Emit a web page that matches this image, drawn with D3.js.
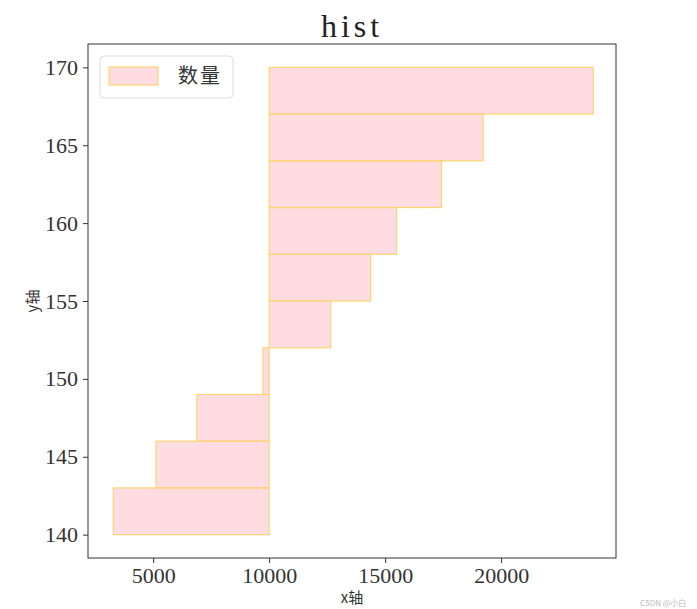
<!DOCTYPE html>
<html lang="zh">
<head>
    <meta charset="UTF-8">
    <script src="https://d3js.org/d3.v7.min.js"></script>
    <title>hist</title>
    <style>
        body { margin: 0; background: #fff; }
    </style>
</head>
<body>

<script>
// bin starts (y, height 3 each) and where each bar ends on x
const binStarts = [140, 143, 146, 149, 152, 155, 158, 161, 164, 167];
const binHeight = 3;
const barEnds = [3280, 5120, 6880, 9730, 12650, 14370, 15490, 17430, 19220, 23970];
const baseline = 10000;
const xTicks = [5000, 10000, 15000, 20000];
const yTicks = [140, 145, 150, 155, 160, 165, 170];

const W = 697, H = 609;
const margin = {top: 44, right: 81, bottom: 51, left: 88};

const serif = '"Liberation Serif", "DejaVu Serif", serif';
const cjk = '"Noto Sans CJK SC", sans-serif';

const svg = d3.select('body').append('svg')
    .attr('width', W)
    .attr('height', H);

const x = d3.scaleLinear()
    .domain([2190, 24950])
    .range([margin.left, W - margin.right]);

const y = d3.scaleLinear()
    .domain([138.5, 171.5])
    .range([H - margin.bottom, margin.top]);

// bars
svg.append('g')
    .selectAll('rect')
    .data(binStarts)
    .join('rect')
    .attr('x', (d, i) => x(Math.min(baseline, barEnds[i])))
    .attr('width', (d, i) => Math.abs(x(barEnds[i]) - x(baseline)))
    .attr('y', d => y(d + binHeight))
    .attr('height', d => y(d) - y(d + binHeight))
    .attr('fill', '#ffc0cb')
    .attr('fill-opacity', 0.55)
    .attr('stroke', '#ffd572')
    .attr('stroke-width', 1.2);

// axes
const xAxis = svg.append('g')
    .attr('transform', `translate(0,${H - margin.bottom})`)
    .call(d3.axisBottom(x).tickValues(xTicks).tickFormat(d3.format('d'))
        .tickSize(5).tickPadding(4));

const yAxis = svg.append('g')
    .attr('transform', `translate(${margin.left},0)`)
    .call(d3.axisLeft(y).tickValues(yTicks).tickFormat(d3.format('d'))
        .tickSize(5).tickPadding(5));

[xAxis, yAxis].forEach(g => {
    g.select('.domain').remove();
    g.selectAll('line').attr('stroke', '#333');
    g.selectAll('text')
        .attr('font-family', serif)
        .attr('font-size', 22)
        .attr('fill', '#333');
});

// frame
svg.append('rect')
    .attr('x', margin.left)
    .attr('y', margin.top)
    .attr('width', W - margin.left - margin.right)
    .attr('height', H - margin.top - margin.bottom)
    .attr('fill', 'none')
    .attr('stroke', '#333')
    .attr('stroke-width', 1);

// title
svg.append('text')
    .attr('x', (margin.left + W - margin.right) / 2)
    .attr('y', 37)
    .attr('text-anchor', 'middle')
    .attr('font-family', serif)
    .attr('font-size', 32)
    .attr('letter-spacing', 4)
    .attr('fill', '#222')
    .text('hist');

// axis labels
svg.append('text')
    .attr('x', (margin.left + W - margin.right) / 2)
    .attr('y', 603)
    .attr('text-anchor', 'middle')
    .attr('font-family', cjk)
    .attr('font-size', 15)
    .attr('fill', '#333')
    .text('x轴');

svg.append('text')
    .attr('transform', `translate(38,${(margin.top + H - margin.bottom) / 2}) rotate(-90)`)
    .attr('text-anchor', 'middle')
    .attr('font-family', cjk)
    .attr('font-size', 15)
    .attr('fill', '#333')
    .text('y轴');

// legend
const legend = svg.append('g');
legend.append('rect')
    .attr('x', 100).attr('y', 56)
    .attr('width', 133).attr('height', 42)
    .attr('rx', 4)
    .attr('fill', '#fff')
    .attr('fill-opacity', 0.8)
    .attr('stroke', '#ddd');
legend.append('rect')
    .attr('x', 109).attr('y', 67)
    .attr('width', 49).attr('height', 18)
    .attr('fill', '#ffc0cb')
    .attr('fill-opacity', 0.55)
    .attr('stroke', '#ffd572')
    .attr('stroke-width', 1.2);
legend.append('text')
    .attr('x', 178).attr('y', 83)
    .attr('font-family', cjk)
    .attr('font-size', 20)
    .attr('letter-spacing', 2)
    .attr('fill', '#333')
    .text('数量');

// watermark
svg.append('text')
    .attr('x', 640).attr('y', 606)
    .attr('font-family', cjk)
    .attr('font-size', 8)
    .attr('fill', '#bbb')
    .text('CSDN @小白');
</script>

</body>
</html>
